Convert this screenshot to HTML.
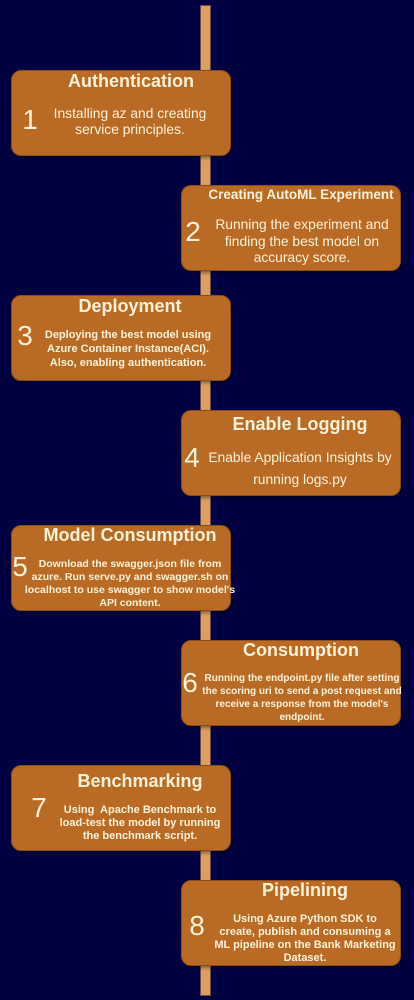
<!DOCTYPE html>
<html><head><meta charset="utf-8"><style>
html,body{margin:0;padding:0}
body{width:414px;height:1000px;background:#000040;position:relative;overflow:hidden;font-family:"Liberation Sans",Arial,sans-serif;color:#fdf1d8}
.spine{position:absolute;left:200px;top:5px;width:9px;height:989px;background:#dca05c;border:1px solid #6b4a50}
.box{position:absolute;width:218px;height:84px;background:#b96b26;border:1px solid #8a4c1c;border-radius:10px;box-shadow:1px 2px 3px rgba(0,0,0,.4)}
.l{position:absolute;width:300px;text-align:center;white-space:nowrap;height:20px;line-height:20px}
.h{font-weight:bold;font-size:18px}
.n{font-size:28px;width:40px}
.b{font-size:13.8px}
.s{font-size:11px;font-weight:bold}
</style></head><body>
<div class="spine"></div>
<div class="box" style="left:11px;top:70px"></div>
<div class="box" style="left:181px;top:185px"></div>
<div class="box" style="left:11px;top:295px"></div>
<div class="box" style="left:181px;top:410px"></div>
<div class="box" style="left:11px;top:525px"></div>
<div class="box" style="left:181px;top:640px"></div>
<div class="box" style="left:11px;top:765px"></div>
<div class="box" style="left:181px;top:880px"></div>

<div class="l h" style="left:-19px;top:71px">Authentication</div>
<div class="l n" style="left:10px;top:110px">1</div>
<div class="l b" style="left:-20px;top:104px">Installing az and creating</div>
<div class="l b" style="left:-20px;top:120px">service principles.</div>

<div class="l h" style="left:151px;top:185px;font-size:13.5px">Creating AutoML Experiment</div>
<div class="l n" style="left:173px;top:222px">2</div>
<div class="l b" style="left:152px;top:215px">Running the experiment and</div>
<div class="l b" style="left:152px;top:232px">finding the best model on</div>
<div class="l b" style="left:152px;top:248px">accuracy score.</div>

<div class="l h" style="left:-20px;top:296px">Deployment</div>
<div class="l n" style="left:5px;top:326px">3</div>
<div class="l s" style="left:-22px;top:325px">Deploying the best model using</div>
<div class="l s" style="left:-22px;top:339px">Azure Container Instance(ACI).</div>
<div class="l s" style="left:-22px;top:353px">Also, enabling authentication.</div>

<div class="l h" style="left:150px;top:414px">Enable Logging</div>
<div class="l n" style="left:172px;top:448px">4</div>
<div class="l b" style="left:150px;top:448px">Enable Application Insights by</div>
<div class="l b" style="left:150px;top:470px">running logs.py</div>

<div class="l h" style="left:-20px;top:525px">Model Consumption</div>
<div class="l n" style="left:0px;top:557px">5</div>
<div class="l s" style="left:-20px;top:554px;font-size:10.5px">Download the swagger.json file from</div>
<div class="l s" style="left:-20px;top:567px;font-size:10.5px">azure. Run serve.py and swagger.sh on</div>
<div class="l s" style="left:-20px;top:580px;font-size:10.5px">localhost to use swagger to show model's</div>
<div class="l s" style="left:-20px;top:593px;font-size:10.5px">API content.</div>

<div class="l h" style="left:151px;top:640px">Consumption</div>
<div class="l n" style="left:170px;top:673px">6</div>
<div class="l s" style="left:152px;top:669px;font-size:10px">Running the endpoint.py file after setting</div>
<div class="l s" style="left:152px;top:682px;font-size:10px">the scoring uri to send a post request and</div>
<div class="l s" style="left:152px;top:695px;font-size:10px">receive a response from the model's</div>
<div class="l s" style="left:152px;top:708px;font-size:10px">endpoint.</div>

<div class="l h" style="left:-10px;top:771px">Benchmarking</div>
<div class="l n" style="left:19px;top:798px">7</div>
<div class="l s" style="left:-10px;top:800px">Using&nbsp; Apache Benchmark to</div>
<div class="l s" style="left:-10px;top:813px">load-test the model by running</div>
<div class="l s" style="left:-10px;top:826px">the benchmark script.</div>

<div class="l h" style="left:155px;top:880px">Pipelining</div>
<div class="l n" style="left:177px;top:916px">8</div>
<div class="l s" style="left:155px;top:909px">Using Azure Python SDK to</div>
<div class="l s" style="left:155px;top:922px">create, publish and consuming a</div>
<div class="l s" style="left:155px;top:935px">ML pipeline on the Bank Marketing</div>
<div class="l s" style="left:155px;top:948px">Dataset.</div>
</body></html>
